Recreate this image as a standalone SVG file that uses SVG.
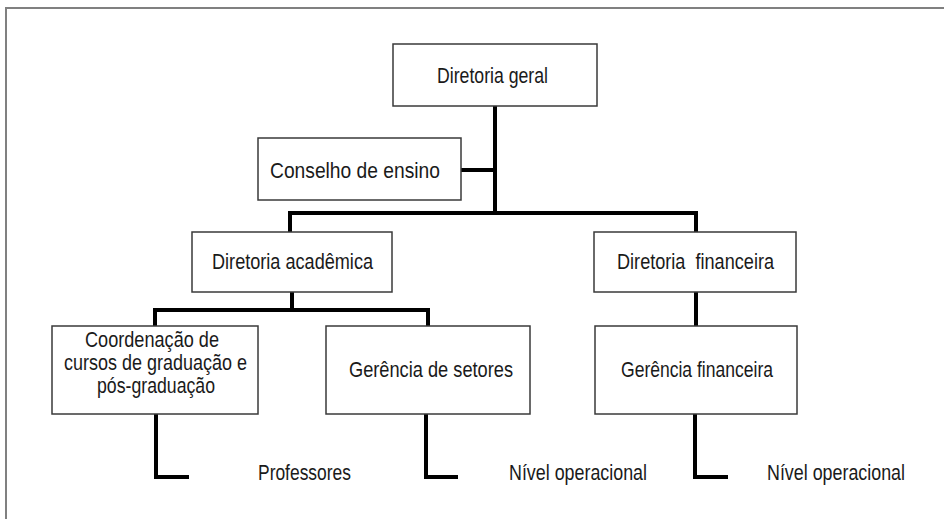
<svg xmlns="http://www.w3.org/2000/svg" width="944" height="519" viewBox="0 0 944 519">
<style>
.box{fill:#fff;stroke:#3a3a3a;stroke-width:1.5}
.t{font-family:"Liberation Sans",Arial,sans-serif;font-size:22px;fill:#1a1a1a;white-space:pre}
.m{text-anchor:middle}
.c{fill:none;stroke:#000;stroke-width:4}
</style>
<rect width="944" height="519" fill="#fff"/>
<path d="M944,8 H6 V519" fill="none" stroke="#808080" stroke-width="2"/>
<g id="connectors">
<path class="c" d="M495,106 V213"/>
<path class="c" d="M461,170 H495"/>
<path class="c" d="M290,232 V213 H696 V232"/>
<path class="c" d="M292,292 V310"/>
<path class="c" d="M155,326 V310 H428 V326"/>
<path class="c" d="M696,292 V326"/>
<path class="c" d="M156,414 V477 H189"/>
<path class="c" d="M426,414 V477 H458"/>
<path class="c" d="M695,414 V477 H728"/>
</g>
<g id="diretoria-geral">
<rect class="box" x="393" y="44" width="204" height="62"/>
<text class="t" x="437" y="83" textLength="111" lengthAdjust="spacingAndGlyphs">Diretoria geral</text>
</g>
<g id="conselho-ensino">
<rect class="box" x="258" y="138" width="203" height="62"/>
<text class="t" x="270" y="178" textLength="170" lengthAdjust="spacingAndGlyphs">Conselho de ensino</text>
</g>
<g id="diretoria-academica">
<rect class="box" x="192" y="232" width="200" height="60"/>
<text class="t" x="212" y="269" textLength="161" lengthAdjust="spacingAndGlyphs">Diretoria acadêmica</text>
</g>
<g id="diretoria-financeira">
<rect class="box" x="594" y="232" width="202" height="60"/>
<text class="t" x="617" y="269" textLength="157" lengthAdjust="spacingAndGlyphs" xml:space="preserve">Diretoria  financeira</text>
</g>
<g id="coordenacao">
<rect class="box" x="52" y="326" width="206" height="88"/>
<text class="t" x="85" y="347" textLength="134" lengthAdjust="spacingAndGlyphs">Coordenação de</text>
<text class="t" x="64" y="370" textLength="183" lengthAdjust="spacingAndGlyphs">cursos de graduação e</text>
<text class="t" x="97" y="393" textLength="118" lengthAdjust="spacingAndGlyphs">pós-graduação</text>
</g>
<g id="gerencia-setores">
<rect class="box" x="326" y="326" width="204" height="88"/>
<text class="t" x="349" y="377" textLength="164" lengthAdjust="spacingAndGlyphs">Gerência de setores</text>
</g>
<g id="gerencia-financeira">
<rect class="box" x="595" y="326" width="202" height="88"/>
<text class="t" x="621" y="377" textLength="152" lengthAdjust="spacingAndGlyphs">Gerência financeira</text>
</g>
<g id="professores">
<text class="t" x="258" y="480" textLength="93" lengthAdjust="spacingAndGlyphs">Professores</text>
</g>
<g id="nivel-operacional-1">
<text class="t" x="509" y="480" textLength="138" lengthAdjust="spacingAndGlyphs">Nível operacional</text>
</g>
<g id="nivel-operacional-2">
<text class="t" x="767" y="480" textLength="138" lengthAdjust="spacingAndGlyphs">Nível operacional</text>
</g>
</svg>
